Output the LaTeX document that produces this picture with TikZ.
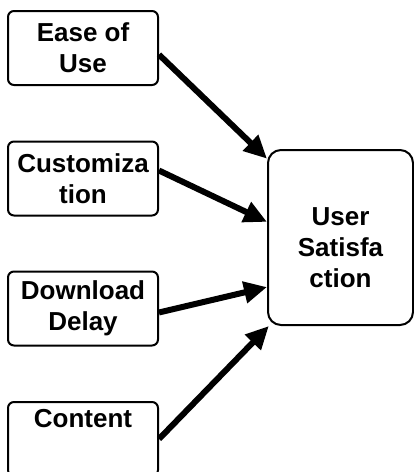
\documentclass[tikz,border=0pt]{standalone}
\usepackage{fontspec}
\setmainfont{Liberation Sans}
\usetikzlibrary{arrows.meta}
\definecolor{modelink}{HTML}{000000}
\tikzset{
  factorbox/.style={draw=modelink, fill=white, rounded corners=6pt,
    line width=2pt, minimum width=150pt, minimum height=74pt,
    font=\fontsize{26}{31}\selectfont\bfseries, text=modelink, align=center,
    inner sep=0pt},
  outcomebox/.style={draw=modelink, fill=white, rounded corners=13pt,
    line width=2pt, minimum width=145pt, minimum height=175pt, inner sep=0pt},
  outcometext/.style={font=\fontsize{26}{31}\selectfont\bfseries, text=modelink,
    align=center, inner sep=0pt},
  effectflow/.style={-{Triangle[length=23pt,width=21pt]}, draw=modelink,
    line width=6pt}
}
\begin{document}
\begin{tikzpicture}[x=1pt,y=-1pt]
  \useasboundingbox (0,0) rectangle (414,472);
  \clip (0,0) rectangle (414,472);
  % four factors feeding one outcome
  \node[factorbox] (ease) at (83,48) {Ease of\\Use};
  \node[factorbox] (custom) at (83,178.5) {Customiza\\tion};
  \node[factorbox] (delay) at (83,308.5) {Download\\Delay};
  \node[factorbox] (content) at (83,439) {Content\\\strut};
  \node[outcomebox] (user) at (340.5,237.5) {};
  \node[outcometext] (usertext) at ([yshift=-10pt]user.center)
    {User\\Satisfa\\ction};

  \foreach \a/\b in {ease.-5/user.133, custom.6/user.168,
                     delay.-3/user.214, content.east/user.231} {
    \draw[effectflow] (\a) -- (\b);
  }
\end{tikzpicture}
\end{document}
